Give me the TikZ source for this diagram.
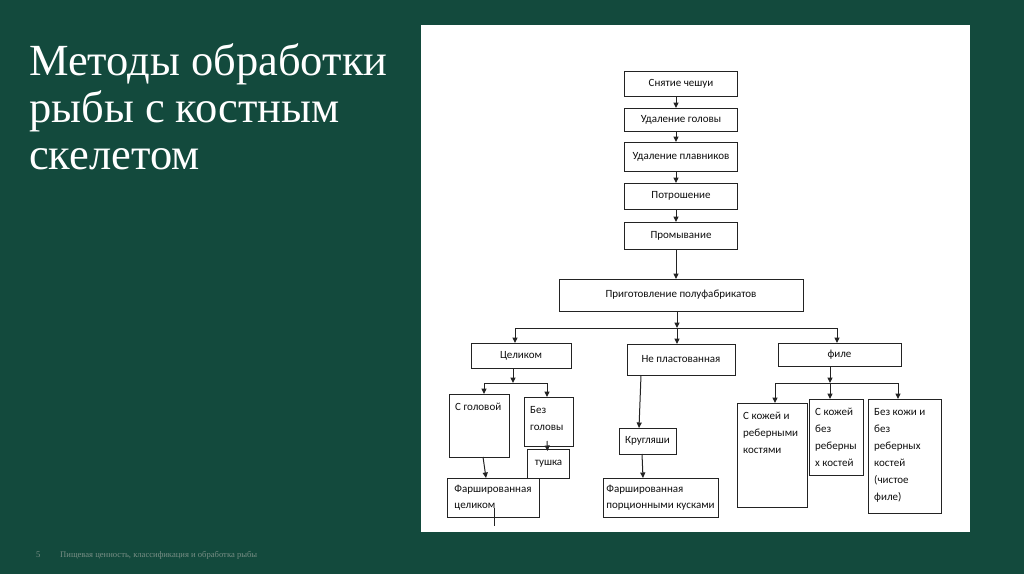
\documentclass[tikz,border=0pt]{standalone}
\usepackage{fontspec}
\setmainfont{Liberation Serif}
\newfontfamily\boxfont{Carlito}
\usetikzlibrary{arrows.meta, positioning}

\definecolor{bggreen}{RGB}{19,74,61}
\definecolor{footgray}{RGB}{120,142,133}
\definecolor{boxline}{RGB}{35,35,35}
\definecolor{boxtext}{RGB}{15,15,15}

\begin{document}
\begin{tikzpicture}[
  x=1pt, y=-1pt,
  stepbox/.style = {
    rectangle, draw=boxline, line width=1pt, fill=white,
    minimum width=113pt, align=center, inner sep=2pt, outer sep=0pt,
    font=\boxfont\fontsize{11}{16}\selectfont, text=boxtext
  },
  tallbox/.style = {
    rectangle, draw=boxline, line width=1pt, fill=white,
    inner sep=0pt, outer sep=0pt
  },
  boxlabel/.style = {
    anchor=north west, align=left, inner xsep=6pt, inner ysep=9pt,
    font=\boxfont\fontsize{11}{17}\selectfont, text=boxtext
  },
  link/.style = {
    draw=boxline, line width=1pt
  },
  arrow/.style = {
    link, -{Triangle[length=5.5pt,width=5pt]}
  },
  heading/.style = {
    text=white, align=left, inner sep=0pt,
    font=\fontsize{44.5}{47}\selectfont
  },
  footer/.style = {
    text=footgray, inner sep=0pt, font=\fontsize{8.6}{10}\selectfont
  }
]

% ====== SLIDE ======
\fill[bggreen] (0,0) rectangle (1024,574);
\useasboundingbox (0,0) rectangle (1024,574);
\fill[white] (421,25) rectangle (970,532);

\node[heading, anchor=north west] (title) at (29,43) {Методы обработки\\рыбы с костным\\скелетом};
\node[footer, anchor=base west] (pageno) at (36,557) {5};
\node[footer, anchor=base west] (course) at (60,557) {Пищевая ценность, классификация и обработка рыбы};

% ====== MAIN CHAIN ======
\node[stepbox, minimum height=25pt] (scaling) at (681,83.5) {Снятие чешуи};
\node[stepbox, minimum height=23pt, below=12pt of scaling] (beheading) {Удаление головы};
\node[stepbox, minimum height=29pt, below=11pt of beheading] (finning) {Удаление плавников};
\node[stepbox, minimum height=26pt, below=12pt of finning] (gutting) {Потрошение};
\node[stepbox, minimum height=27pt, below=13pt of gutting] (washing) {Промывание};
\node[stepbox, minimum width=244pt, minimum height=32pt,
      below=30pt of washing] (prep) {Приготовление полуфабрикатов};

% ====== KINDS (row 2) ======
\node[stepbox, minimum width=100pt, minimum height=25pt,
      below=32pt of prep, xshift=-160pt] (whole) {Целиком};
\node[stepbox, minimum width=108pt, minimum height=31pt,
      below=33pt of prep] (nonlam) {Не пластованная};
\node[stepbox, minimum width=123pt, minimum height=23pt,
      below=32pt of prep, xshift=158.5pt] (fillet) {филе};

% ====== WHOLE FISH ======
\node[tallbox, minimum width=60pt, minimum height=63pt,
      below=26pt of whole, xshift=-42pt,
      label={[boxlabel]north west:{С головой}}] (withhead) {};
\node[tallbox, minimum width=49pt, minimum height=49pt,
      below=29pt of whole, xshift=27.5pt,
      label={[boxlabel]north west:{Без\\головы}}] (headless) {};
\node[stepbox, minimum width=42pt, minimum height=29pt,
      below=3pt of headless] (carcass) {тушка};
\node[stepbox, minimum width=92pt, minimum height=39pt, align=left,
      below=21pt of withhead, xshift=14pt] (stuffedwhole) {Фаршированная\\целиком};

% ====== NOT LAYERED ======
\node[stepbox, minimum width=57pt, minimum height=26pt,
      below=53pt of nonlam, xshift=-33.5pt] (rounds) {Кругляши};
\node[stepbox, minimum width=115pt, minimum height=39pt, align=left,
      below=24pt of rounds, xshift=13pt] (stuffedpieces) {Фаршированная\\порционными кусками};

% ====== FILLET ======
\node[tallbox, minimum width=70pt, minimum height=104pt,
      below=37pt of fillet, xshift=-67.5pt,
      label={[boxlabel]north west:{С кожей и\\реберными\\костями}}] (skinbones) {};
\node[tallbox, minimum width=54pt, minimum height=76pt,
      below=33pt of fillet, xshift=-3.5pt,
      label={[boxlabel]north west:{С кожей\\без\\реберны\\х костей}}] (skinnobones) {};
\node[tallbox, minimum width=73pt, minimum height=114pt,
      below=33pt of fillet, xshift=65pt,
      label={[boxlabel]north west:{Без кожи и\\без\\реберных\\костей\\(чистое\\филе)}}] (clean) {};

% ====== ARROWS ======
% main chain
\foreach \a/\b in {scaling/beheading, beheading/finning, finning/gutting,
                   gutting/washing, washing/prep}
  \draw[arrow] ([xshift=-5pt]\a.south) -- ([xshift=-5pt]\a.south |- \b.north);

% prep -> three kinds
\coordinate (split) at ([xshift=-4pt, yshift=-17pt]prep.south);
\draw[arrow] ([xshift=-4pt]prep.south) -- (split);
\draw[link] ([xshift=-6pt]whole.north |- split) -- ([xshift=-2.5pt]fillet.north |- split);
\draw[arrow] ([xshift=-6pt]whole.north |- split) -- ([xshift=-6pt]whole.north);
\draw[arrow] (split) -- (split |- nonlam.north);
\draw[arrow] ([xshift=-2.5pt]fillet.north |- split) -- ([xshift=-2.5pt]fillet.north);

% whole fish
\coordinate (wsplit) at ([xshift=-8pt, yshift=-15pt]whole.south);
\draw[arrow] ([xshift=-8pt]whole.south) -- (wsplit);
\draw[link] ([xshift=5pt]withhead.north |- wsplit) -- ([xshift=-1.5pt]headless.north |- wsplit);
\draw[arrow] ([xshift=5pt]withhead.north |- wsplit) -- ([xshift=5pt]withhead.north);
\draw[arrow] ([xshift=-1.5pt]headless.north |- wsplit) -- ([xshift=-1.5pt]headless.north);
\draw[arrow] ([xshift=-1.5pt, yshift=5pt]headless.south) -- ([xshift=-1pt, yshift=-2pt]carcass.north);
\draw[arrow] ([xshift=4pt]withhead.south) -- ([xshift=-7pt]stuffedwhole.north);
\coordinate (stub) at ([xshift=1pt, yshift=-9pt]stuffedwhole.south);
\draw[link] ([xshift=1pt, yshift=9pt]stuffedwhole.south) -- (stub);

% not layered
\draw[arrow] ([xshift=-40pt]nonlam.south) -- ([xshift=-8.5pt]rounds.north);
\draw[arrow] ([xshift=-5.5pt]rounds.south) -- ([xshift=-17.5pt]stuffedpieces.north);

% fillet
\coordinate (fsplit) at ([xshift=-9.5pt, yshift=-17pt]fillet.south);
\draw[arrow] ([xshift=-9.5pt]fillet.south) -- (fsplit);
\draw[link] ([xshift=3pt]skinbones.north |- fsplit) -- ([xshift=-6.5pt]clean.north |- fsplit);
\draw[arrow] ([xshift=3pt]skinbones.north |- fsplit) -- ([xshift=3pt]skinbones.north);
\draw[arrow] (fsplit) -- (fsplit |- skinnobones.north);
\draw[arrow] ([xshift=-6.5pt]clean.north |- fsplit) -- ([xshift=-6.5pt]clean.north);

\end{tikzpicture}
\end{document}
